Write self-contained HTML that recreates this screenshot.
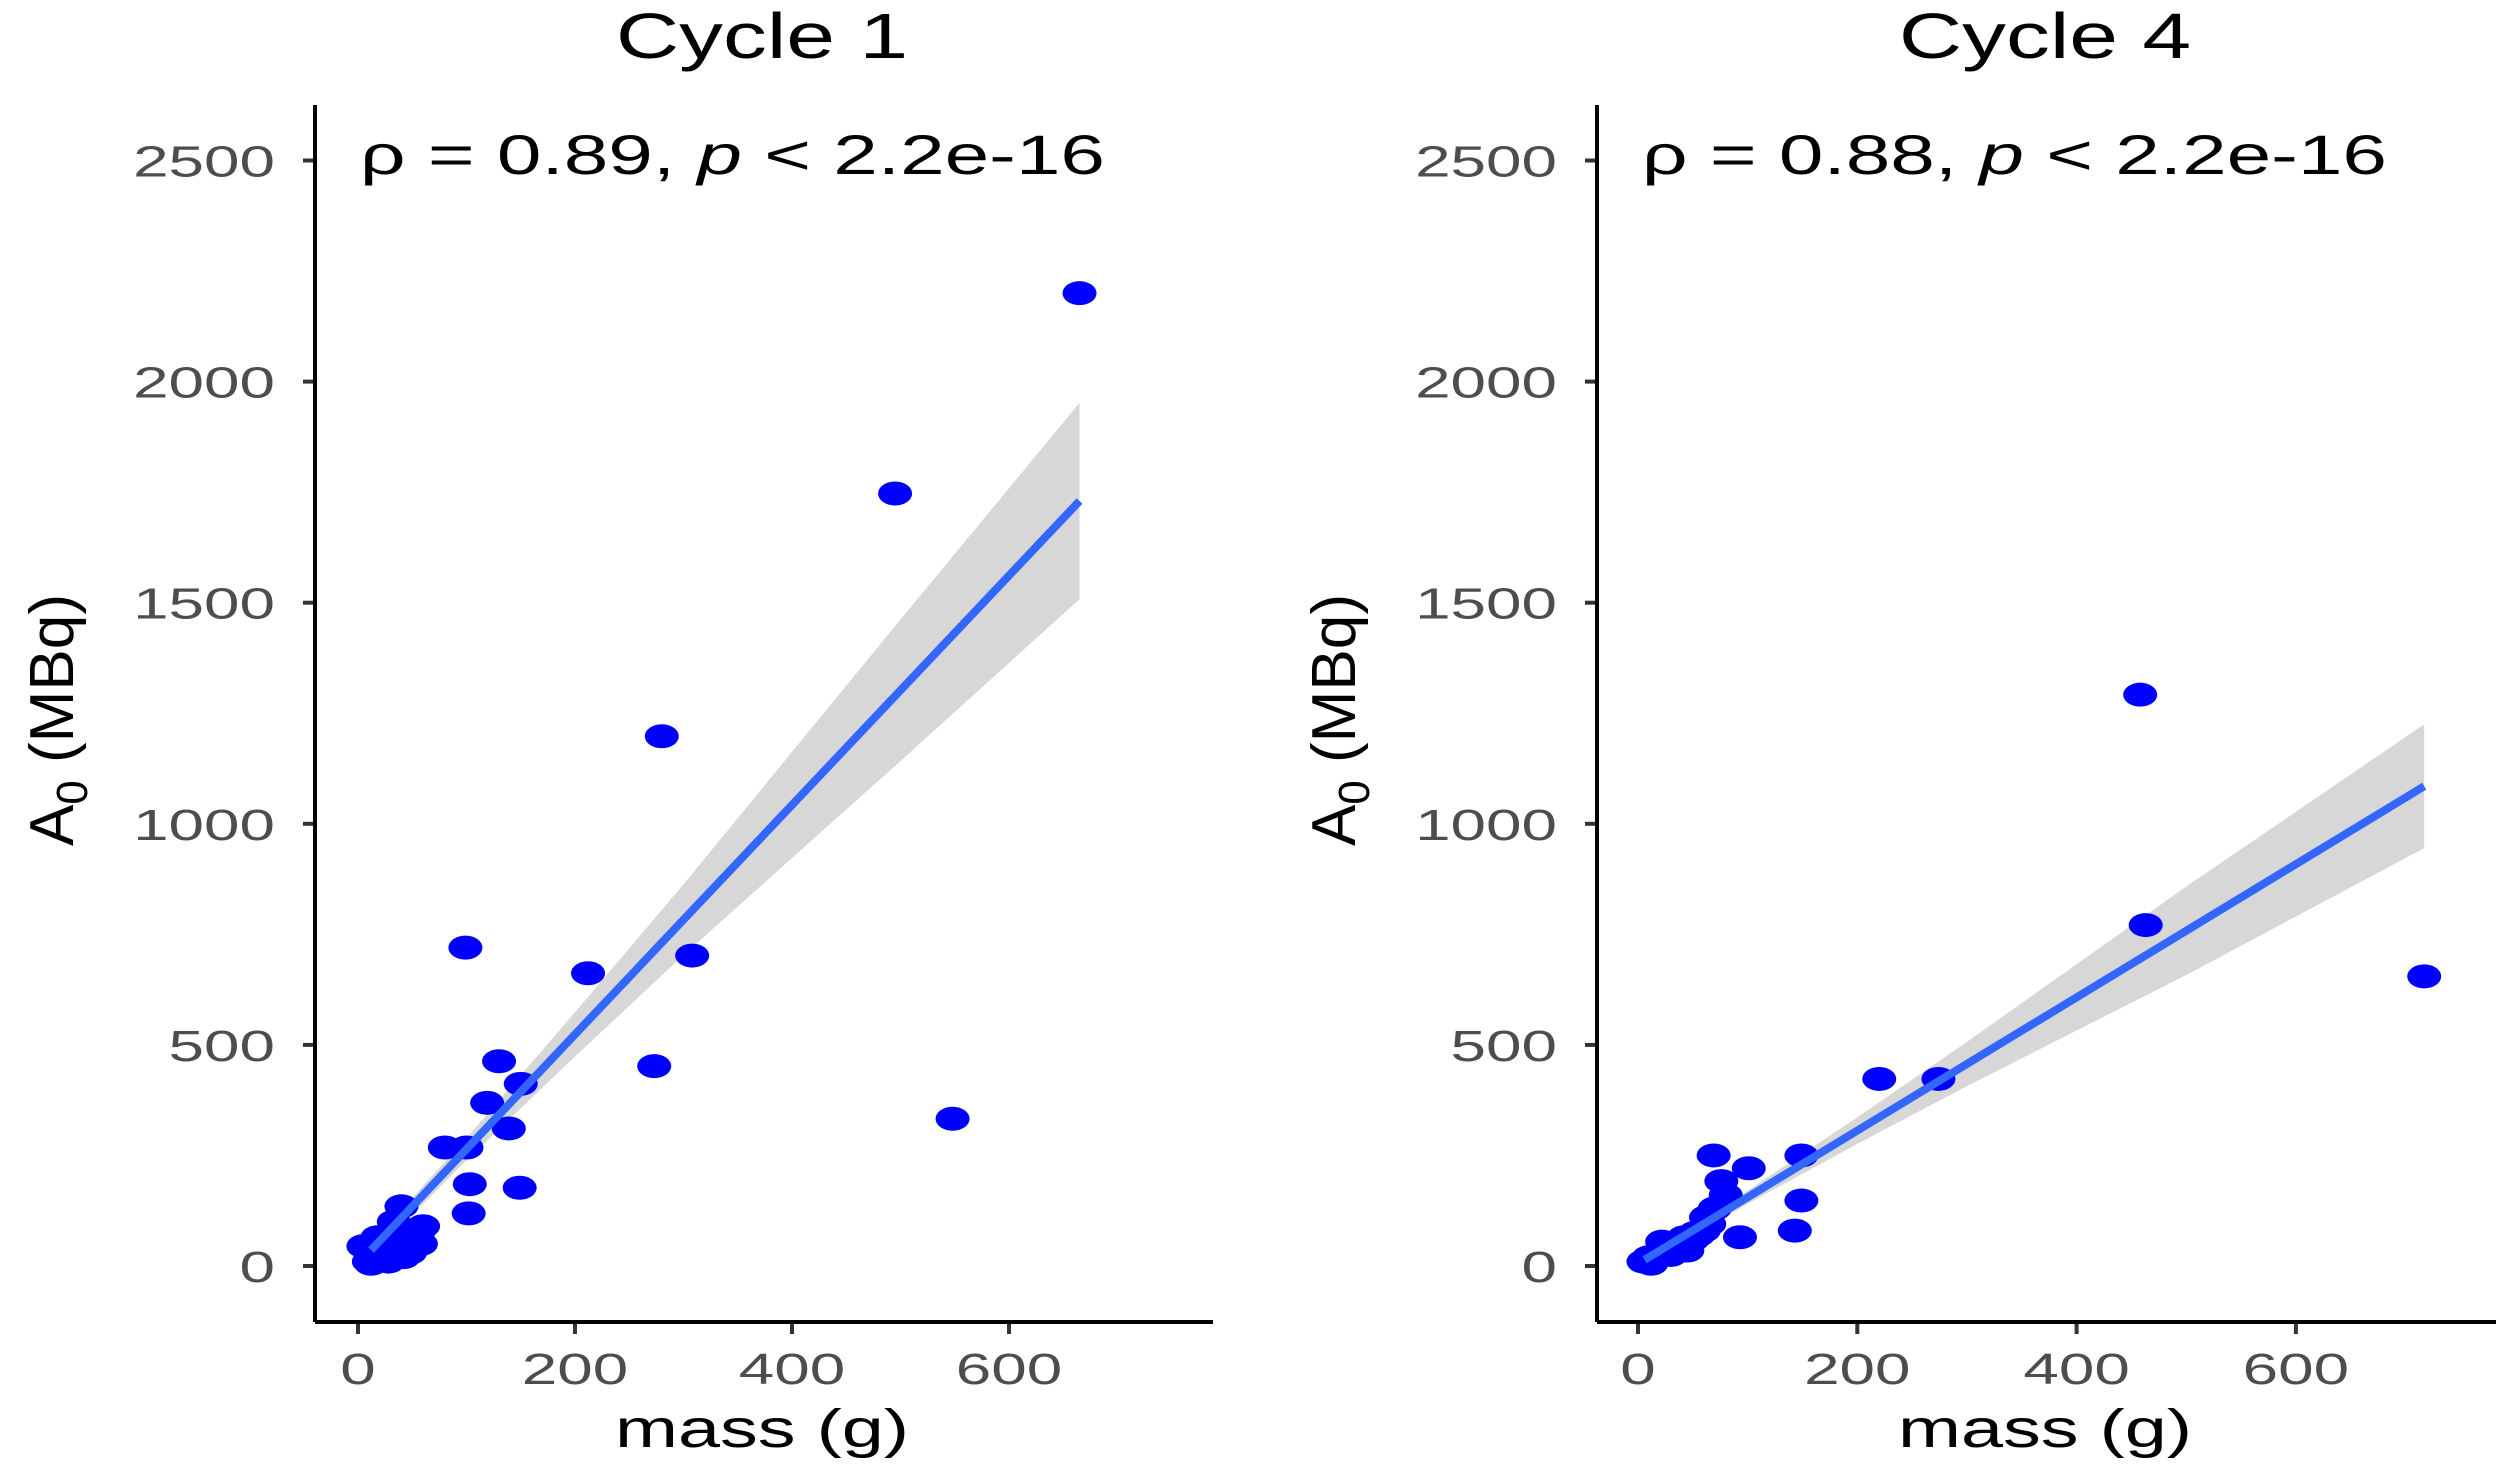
<!DOCTYPE html>
<html><head><meta charset="utf-8"><style>
html,body{margin:0;padding:0;background:#fff;}
svg{display:block;font-family:"Liberation Sans",sans-serif;}
</style></head><body>
<svg id="chart" width="2508" height="1469" viewBox="0 0 2508 1469"></svg>
<script>
// Cycle 1 data
const c1Mass = [665,495,280,308,99,212,273,548,130,119,150,139,80,100,103,149,102,
  5,10,15,20,25,30,35,40,45,50,55,60,12,22,33,42,52,58,18,28,38,48];
const c1Activity = [2200,1747,1198,702,720,662,452,333,463,369,412,311,268,268,185,177,119,
  45,10,20,35,15,60,25,135,30,55,70,90,5,40,100,20,80,50,65,10,45,30];
// Cycle 4 data
const c4Mass = [458,463,717,220,274,69,101,149,149,76,93,143,
  5,10,15,20,25,30,35,40,45,50,55,60,65,12,22,32,42,52,62,70,80];
const c4Activity = [1292,771,655,423,423,250,221,250,148,192,65,80,
  10,20,15,30,40,25,45,50,35,60,70,80,95,5,55,30,65,75,110,130,160];
// Fits and confidence bands
const c1Fit = {x0:12, y0:36, x1:665, y1:1730};
const c1BandX = [12,100,200,300,400,500,665];
const c1BandHalf = [15,25,50,80,120,160,222];
const c4Fit = {x0:6, y0:14, x1:717, y1:1085};
const c4BandX = [6,100,200,300,400,500,717];
const c4BandHalf = [10,15,30,50,75,100,140];
const yTicks = [0,500,1000,1500,2000,2500];
const xTicks = [0,200,400,600];

const NS="http://www.w3.org/2000/svg";
const svg=document.getElementById('chart');
function mk(tag,attrs,parent){const e=document.createElementNS(NS,tag);for(const k in attrs)e.setAttribute(k,attrs[k]);(parent||svg).appendChild(e);return e;}

function panel(cfg){
  const g=mk('g',{});
  
  
  const X=v=>cfg.x0+v*cfg.xs, Y=v=>1266-v*0.4422;
  const t=mk('text',{x:0,y:0,'font-size':64,'text-anchor':'middle',fill:'#000',transform:`translate(${cfg.titleX},58) scale(1.37,1)`},g);
  t.textContent=cfg.title;
  
  
  const a=mk('text',{x:cfg.axisX+45,y:174,'font-size':56,fill:'#000',textLength:745,lengthAdjust:'spacingAndGlyphs'},g);
  a.innerHTML='ρ = '+cfg.rho+', <tspan font-style="italic">p</tspan> &lt; 2.2e-16';
  
  
  yTicks.forEach(v=>{
    mk('line',{x1:cfg.axisX-12,x2:cfg.axisX,y1:Y(v),y2:Y(v),stroke:'#333','stroke-width':4},g);
    const l=mk('text',{x:0,y:0,'font-size':44,'text-anchor':'end',fill:'#4d4d4d',transform:`translate(${cfg.axisX-40},${Y(v)+16}) scale(1.45,1)`},g);
    l.textContent=v;
    
    
  });
  xTicks.forEach(v=>{
    mk('line',{x1:X(v),x2:X(v),y1:1322,y2:1334,stroke:'#333','stroke-width':4},g);
    const l=mk('text',{x:0,y:0,'font-size':44,'text-anchor':'middle',fill:'#4d4d4d',transform:`translate(${X(v)},1384) scale(1.45,1)`},g);
    l.textContent=v;
    
    
  });
  mk('line',{x1:cfg.axisX,x2:cfg.axisX,y1:105,y2:1322,stroke:'#000','stroke-width':4},g);
  mk('line',{x1:cfg.axisX,x2:cfg.axisEnd,y1:1322,y2:1322,stroke:'#000','stroke-width':4},g);
  const xl=mk('text',{x:0,y:0,'font-size':54,'text-anchor':'middle',fill:'#000',transform:`translate(${cfg.titleX},1447) scale(1.4,1)`},g);
  xl.textContent='mass (g)';
  
  
  const yl=mk('text',{x:0,y:0,'font-size':54,'text-anchor':'middle',fill:'#000',transform:`translate(${cfg.axisX-242},720) rotate(-90) scale(1.15,1.15)`},g);
  yl.innerHTML='A<tspan font-size="38" dy="12">0</tspan><tspan dy="-12"> (MBq)</tspan>';
  
  
  const fy=x=>cfg.fit.y0+(cfg.fit.y1-cfg.fit.y0)*(x-cfg.fit.x0)/(cfg.fit.x1-cfg.fit.x0);
  let up=cfg.bx.map((x,i)=>X(x)+','+Y(fy(x)+cfg.bh[i]));
  let lo=cfg.bx.map((x,i)=>X(x)+','+Y(fy(x)-cfg.bh[i])).reverse();
  const band=mk('polygon',{points:up.concat(lo).join(' '),fill:'#bdbdbd','fill-opacity':0.6},g);
  
  
  cfg.mx.forEach((m,i)=>{
    const p=mk('ellipse',{cx:X(m),cy:Y(cfg.ay[i]),rx:17,ry:12,fill:'#0000ff'},g);
    
    
  });
  const ln=mk('line',{x1:X(cfg.fit.x0),y1:Y(cfg.fit.y0),x2:X(cfg.fit.x1),y2:Y(cfg.fit.y1),stroke:'#3366ff','stroke-width':8},g);
  
  
}
panel({name:'cycle-1-panel',title:'Cycle 1',rho:'0.89',titleX:762,axisX:315,axisEnd:1213,x0:358,xs:1.085,
  mx:c1Mass,ay:c1Activity,fit:c1Fit,bx:c1BandX,bh:c1BandHalf});
panel({name:'cycle-4-panel',title:'Cycle 4',rho:'0.88',titleX:2045,axisX:1597,axisEnd:2496,x0:1638,xs:1.0965,
  mx:c4Mass,ay:c4Activity,fit:c4Fit,bx:c4BandX,bh:c4BandHalf});
</script>
</body></html>
